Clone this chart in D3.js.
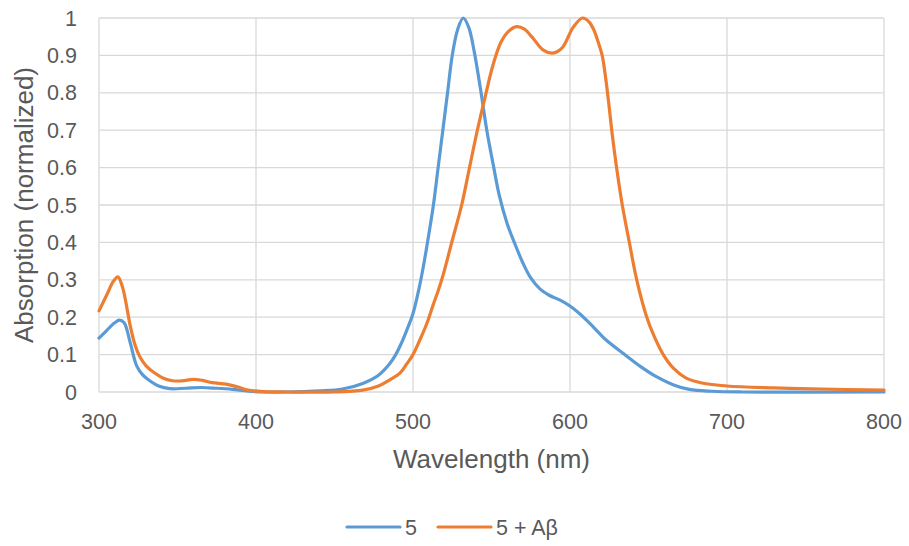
<!DOCTYPE html>
<html>
<head>
<meta charset="utf-8">
<script src="https://cdn.jsdelivr.net/npm/d3@7"></script>
<style>
body { margin: 0; background: #fff; }
text { font-family: "Liberation Sans", Arial, sans-serif; fill: #595959; }
</style>
</head>
<body>
<div id="chart"></div>
<script>
var width = 909,
    height = 546;

var margin = {top: 18, right: 25, bottom: 154, left: 99};

// series names
var seriesNames = ["5", "5 + A\u03b2"];

// compound 5 alone
var wl5 = [300, 305, 310, 313, 316, 320, 324, 328, 333, 338, 345, 355, 365, 375, 385, 395, 405, 420, 440, 455,
  468, 478, 485, 489, 492, 496, 500, 504, 507, 510, 513, 516, 519, 522, 525, 528.5, 532, 535.5, 539, 543,
  547, 551, 555, 560, 565, 570, 575, 581, 587, 594, 600, 606, 612, 618, 623, 634, 645, 655, 666, 676, 690, 710, 800];
var abs5 = [0.144, 0.165, 0.185, 0.192, 0.185, 0.13, 0.07, 0.045, 0.028, 0.016, 0.009, 0.01, 0.012, 0.01, 0.007, 0.002, 0.0, 0.0, 0.003, 0.008,
  0.023, 0.045, 0.075, 0.1, 0.125, 0.165, 0.21, 0.28, 0.345, 0.42, 0.5, 0.6, 0.7, 0.8, 0.9, 0.97, 1.0, 0.975, 0.91, 0.81,
  0.7, 0.61, 0.525, 0.45, 0.395, 0.345, 0.305, 0.275, 0.258, 0.245, 0.23, 0.21, 0.186, 0.16, 0.139, 0.103, 0.068, 0.041, 0.019, 0.007, 0.002, 0.0, 0.0];

// compound 5 with Abeta
var wlAb = [300, 305, 309, 312, 315, 320, 323, 326, 330, 335, 341, 347, 353, 360, 366, 372, 381, 388, 395, 405,
  420, 450, 468, 478, 485, 492, 496, 500, 505, 509, 513, 516, 519, 525, 531, 536, 541, 546, 551, 556,
  561, 566, 571, 576, 583, 589, 595, 602, 608, 612, 615, 618, 620.5, 623, 625, 627, 630, 633.3, 637.8, 642.5,
  648.9, 653.5, 659.4, 666, 674, 684, 700, 730, 760, 800];
var absAb = [0.217, 0.26, 0.295, 0.308, 0.28, 0.175, 0.125, 0.094, 0.07, 0.052, 0.037, 0.03, 0.03, 0.034, 0.031, 0.025, 0.021, 0.014, 0.005, 0.001,
  0.0, 0.0, 0.005, 0.016, 0.032, 0.052, 0.075, 0.1, 0.145, 0.185, 0.235, 0.27, 0.31, 0.405, 0.5, 0.6, 0.7, 0.79, 0.875, 0.935,
  0.965, 0.977, 0.97, 0.948, 0.914, 0.906, 0.92, 0.975, 1.0, 0.99, 0.97, 0.935, 0.9, 0.83, 0.76, 0.685, 0.59, 0.5, 0.4, 0.3,
  0.2, 0.15, 0.1, 0.063, 0.037, 0.024, 0.016, 0.011, 0.008, 0.005];

var xTicks = [300, 400, 500, 600, 700, 800];
var yTicks = [0, 0.1, 0.2, 0.3, 0.4, 0.5, 0.6, 0.7, 0.8, 0.9, 1];

var colors = ["#5B9BD5", "#ED7D31"];

var series = [
  {name: seriesNames[0], values: wl5.map(function(w, i){ return {x: w, y: abs5[i]}; })},
  {name: seriesNames[1], values: wlAb.map(function(w, i){ return {x: w, y: absAb[i]}; })}
];

var svg = d3.select("#chart").append("svg")
  .attr("width", width)
  .attr("height", height);

var x = d3.scaleLinear().domain([300, 800]).range([margin.left, width - margin.right]);
var y = d3.scaleLinear().domain([0, 1]).range([height - margin.bottom, margin.top]);

// gridlines
svg.append("g").selectAll("line.v")
  .data(xTicks)
  .enter().append("line")
  .attr("x1", function(d){ return x(d); })
  .attr("x2", function(d){ return x(d); })
  .attr("y1", y(0))
  .attr("y2", y(1))
  .attr("stroke", "#D9D9D9")
  .attr("stroke-width", 1.3);

svg.append("g").selectAll("line.h")
  .data(yTicks)
  .enter().append("line")
  .attr("x1", x(300))
  .attr("x2", x(800))
  .attr("y1", function(d){ return y(d); })
  .attr("y2", function(d){ return y(d); })
  .attr("stroke", "#D9D9D9")
  .attr("stroke-width", 1.3);

// tick labels
svg.append("g").selectAll("text")
  .data(xTicks)
  .enter().append("text")
  .attr("x", function(d){ return x(d); })
  .attr("y", 429)
  .attr("text-anchor", "middle")
  .attr("font-size", "21.5px")
  .text(function(d){ return d; });

svg.append("g").selectAll("text")
  .data(yTicks)
  .enter().append("text")
  .attr("x", 77)
  .attr("y", function(d){ return y(d) + 7.5; })
  .attr("text-anchor", "end")
  .attr("font-size", "21.5px")
  .text(function(d){ return d3.format("~g")(d); });

// axis titles
svg.append("text")
  .attr("x", (x(300) + x(800)) / 2)
  .attr("y", 468)
  .attr("text-anchor", "middle")
  .attr("font-size", "26px")
  .text("Wavelength (nm)");

svg.append("text")
  .attr("transform", "translate(33," + ((y(0) + y(1)) / 2) + ") rotate(-90)")
  .attr("text-anchor", "middle")
  .attr("font-size", "26px")
  .text("Absorption (normalized)");

// lines
var line = d3.line()
  .x(function(d){ return x(d.x); })
  .y(function(d){ return y(d.y); })
  .curve(d3.curveCatmullRom.alpha(0.5));

svg.append("g").selectAll("path")
  .data(series)
  .enter().append("path")
  .attr("d", function(d){ return line(d.values); })
  .attr("fill", "none")
  .attr("stroke", function(d, i){ return colors[i]; })
  .attr("stroke-width", 3.2)
  .attr("stroke-linejoin", "round")
  .attr("stroke-linecap", "round");

// legend
var legendX = [347, 438];
var legend = svg.append("g").attr("class", "legend");

legend.selectAll("line")
  .data(series)
  .enter().append("line")
  .attr("x1", function(d, i){ return legendX[i]; })
  .attr("x2", function(d, i){ return legendX[i] + 53; })
  .attr("y1", 527)
  .attr("y2", 527)
  .attr("stroke", function(d, i){ return colors[i]; })
  .attr("stroke-width", 3.2)
  .attr("stroke-linecap", "round");

legend.selectAll("text")
  .data(series)
  .enter().append("text")
  .attr("x", function(d, i){ return legendX[i] + 58; })
  .attr("y", 535)
  .attr("font-size", "21.5px")
  .text(function(d){ return d.name; });
</script>
</body>
</html>
